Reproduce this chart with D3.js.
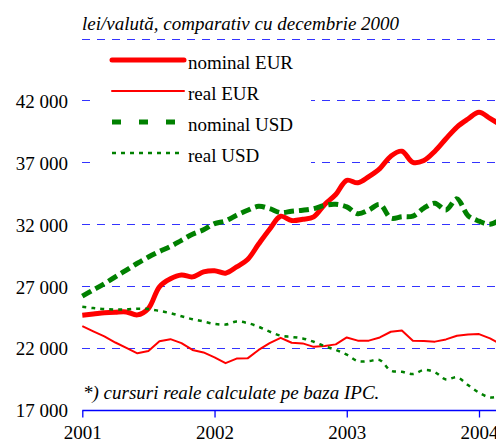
<!DOCTYPE html>
<html>
<head>
  <meta charset="UTF-8">
  <script src="https://d3js.org/d3.v7.min.js"></script>
</head>
<body style="margin:0">
  <script>
    // months since Jan 2001
    const months = d3.range(39);
    const years = ["2001", "2002", "2003", "2004"];
    const yTicks = [17000, 22000, 27000, 32000, 37000, 42000, 47000];

    const nominalEUR = [24660, 24750, 24850, 24900, 24920, 24680, 25200, 26950, 27600, 27900,
      27750, 28150, 28250, 28050, 28550, 29150, 30400, 31600, 32650, 32300,
      32400, 32600, 33600, 34400, 35550, 35350, 35850, 36500, 37500, 37900,
      37000, 37150, 37900, 38900, 39850, 40500, 41050, 40550, 40000];
    const realEUR = [23770, 23350, 22950, 22450, 22020, 21580, 21760, 22550, 22720, 22400,
      21850, 21650, 21250, 20780, 21150, 21170, 21850, 22400, 22830, 22430,
      22380, 22100, 22170, 22300, 22860, 22600, 22600, 22860, 23320, 23420,
      22600, 22570, 22520, 22700, 23000, 23100, 23130, 22780, 22300];
    const nominalUSD = [26200, 26700, 27200, 27750, 28300, 28850, 29350, 29800, 30200, 30700,
      31200, 31550, 32050, 32270, 32730, 33130, 33450, 33260, 32940, 33050,
      33130, 33260, 33530, 33610, 33400, 32850, 33150, 33600, 32500, 32600,
      32650, 33300, 33700, 33150, 34050, 32700, 32250, 32000, 32400];
    const realUSD = [25330, 25230, 25150, 25120, 25130, 25180, 25150, 25000, 24820, 24570,
      24330, 24150, 23950, 23900, 24150, 24020, 23720, 23330, 23000, 22900,
      22780, 22510, 22150, 21850, 21470, 20950, 20950, 21030, 20170, 20090,
      19900, 20230, 20050, 19470, 19640, 19020, 18400, 18020, 18150];

    const series = [
      { name: "nominal EUR", values: nominalEUR, color: "#ff0000", width: 5, dash: null, legendDash: null, smooth: true },
      { name: "real EUR", values: realEUR, color: "#ff0000", width: 2, dash: null, legendDash: null, smooth: false },
      { name: "nominal USD", values: nominalUSD, color: "#008000", width: 5, dash: "10,5", legendDash: "9,18", smooth: true },
      { name: "real USD", values: realUSD, color: "#008000", width: 2.5, dash: "4,5", legendDash: "4,5", smooth: true }
    ];

    const width = 496, height = 443;
    const serif = "Liberation Serif";
    const blue = "#0000ff";
    // text is set at 22px and scaled down to look like 19px
    const fs = 22, k = 19 / 22;

    const x = d3.scaleLinear().domain([0, 36]).range([82.3, 479]);
    const y = d3.scaleLinear().domain([17000, 47000]).range([410, 38.5]);

    const svg = d3.select("body")
      .append("svg")
      .attr("width", width)
      .attr("height", height);

    const label = (px, py, txt, italic) => svg.append("text")
      .attr("transform", `translate(${px},${py}) scale(${k})`)
      .attr("font-family", serif)
      .attr("font-style", italic ? "italic" : "normal")
      .attr("font-size", fs)
      .attr("fill", "#000")
      .text(txt);

    // title
    label(82, 30, "lei/valută, comparativ cu decembrie 2000", true);

    // dashed gridlines
    svg.append("g")
      .selectAll("line")
      .data(yTicks.slice(1))
      .enter()
      .append("line")
      .attr("x1", 82)
      .attr("x2", 496)
      .attr("y1", d => Math.round(y(d)) + 0.5)
      .attr("y2", d => Math.round(y(d)) + 0.5)
      .attr("stroke", "#3333ff")
      .attr("stroke-dasharray", "8,7");

    // y labels
    const fmt = d3.formatLocale({ decimal: ",", thousands: " ", grouping: [3], currency: ["", ""] }).format(",");
    const yAxis = d3.axisLeft(y)
      .tickValues(yTicks.slice(0, -1))
      .tickSize(0)
      .tickPadding(14)
      .tickFormat(fmt);
    svg.append("g")
      .attr("transform", "translate(82,0)")
      .call(yAxis)
      .attr("font-family", serif)
      .attr("font-size", fs)
      .call(g => g.select(".domain").remove())
      .selectAll("text")
      .attr("fill", "#000")
      .attr("x", -14 / k)
      .attr("dy", "0.36em")
      .attr("transform", `scale(${k})`);

    // x axis
    const xAxis = d3.axisBottom(x)
      .tickValues([0, 12, 24, 36])
      .tickFormat((d, i) => years[i])
      .tickSize(7)
      .tickSizeOuter(0)
      .tickPadding(8);
    const gx = svg.append("g")
      .attr("transform", "translate(0,410.5)")
      .call(xAxis)
      .attr("font-family", serif)
      .attr("font-size", fs);
    gx.select(".domain")
      .attr("d", "M82.3,0H496")
      .attr("stroke", blue)
      .attr("stroke-width", 1.3);
    gx.selectAll(".tick line")
      .attr("stroke", blue)
      .attr("stroke-width", 1.3);
    gx.selectAll("text")
      .attr("fill", "#000")
      .attr("y", 15 / k)
      .attr("transform", `scale(${k})`);

    // footnote
    label(83, 399, "*) cursuri reale calculate pe baza IPC.", true);

    // legend box hides the gridlines behind it
    svg.append("rect")
      .attr("x", 91)
      .attr("y", 46)
      .attr("width", 220)
      .attr("height", 124)
      .attr("fill", "#fff");

    // series lines
    series.forEach(s => {
      const line = d3.line()
        .x((d, i) => x(months[i]))
        .y(d => y(d))
        .curve(s.smooth ? d3.curveCatmullRom.alpha(0.5) : d3.curveLinear);
      svg.append("path")
        .datum(s.values)
        .attr("fill", "none")
        .attr("stroke", s.color)
        .attr("stroke-width", s.width)
        .attr("stroke-dasharray", s.dash)
        .attr("stroke-linejoin", "round")
        .attr("d", line);
    });

    // legend
    series.forEach((s, i) => {
      const ly = 60 + i * 31;
      svg.append("line")
        .attr("x1", 112)
        .attr("x2", 184)
        .attr("y1", ly)
        .attr("y2", ly)
        .attr("stroke", s.color)
        .attr("stroke-width", s.width)
        .attr("stroke-dasharray", s.legendDash)
        .attr("stroke-linecap", s.legendDash ? "butt" : "round");
      label(188, ly + 9, s.name, false);
    });
  </script>
</body>
</html>
